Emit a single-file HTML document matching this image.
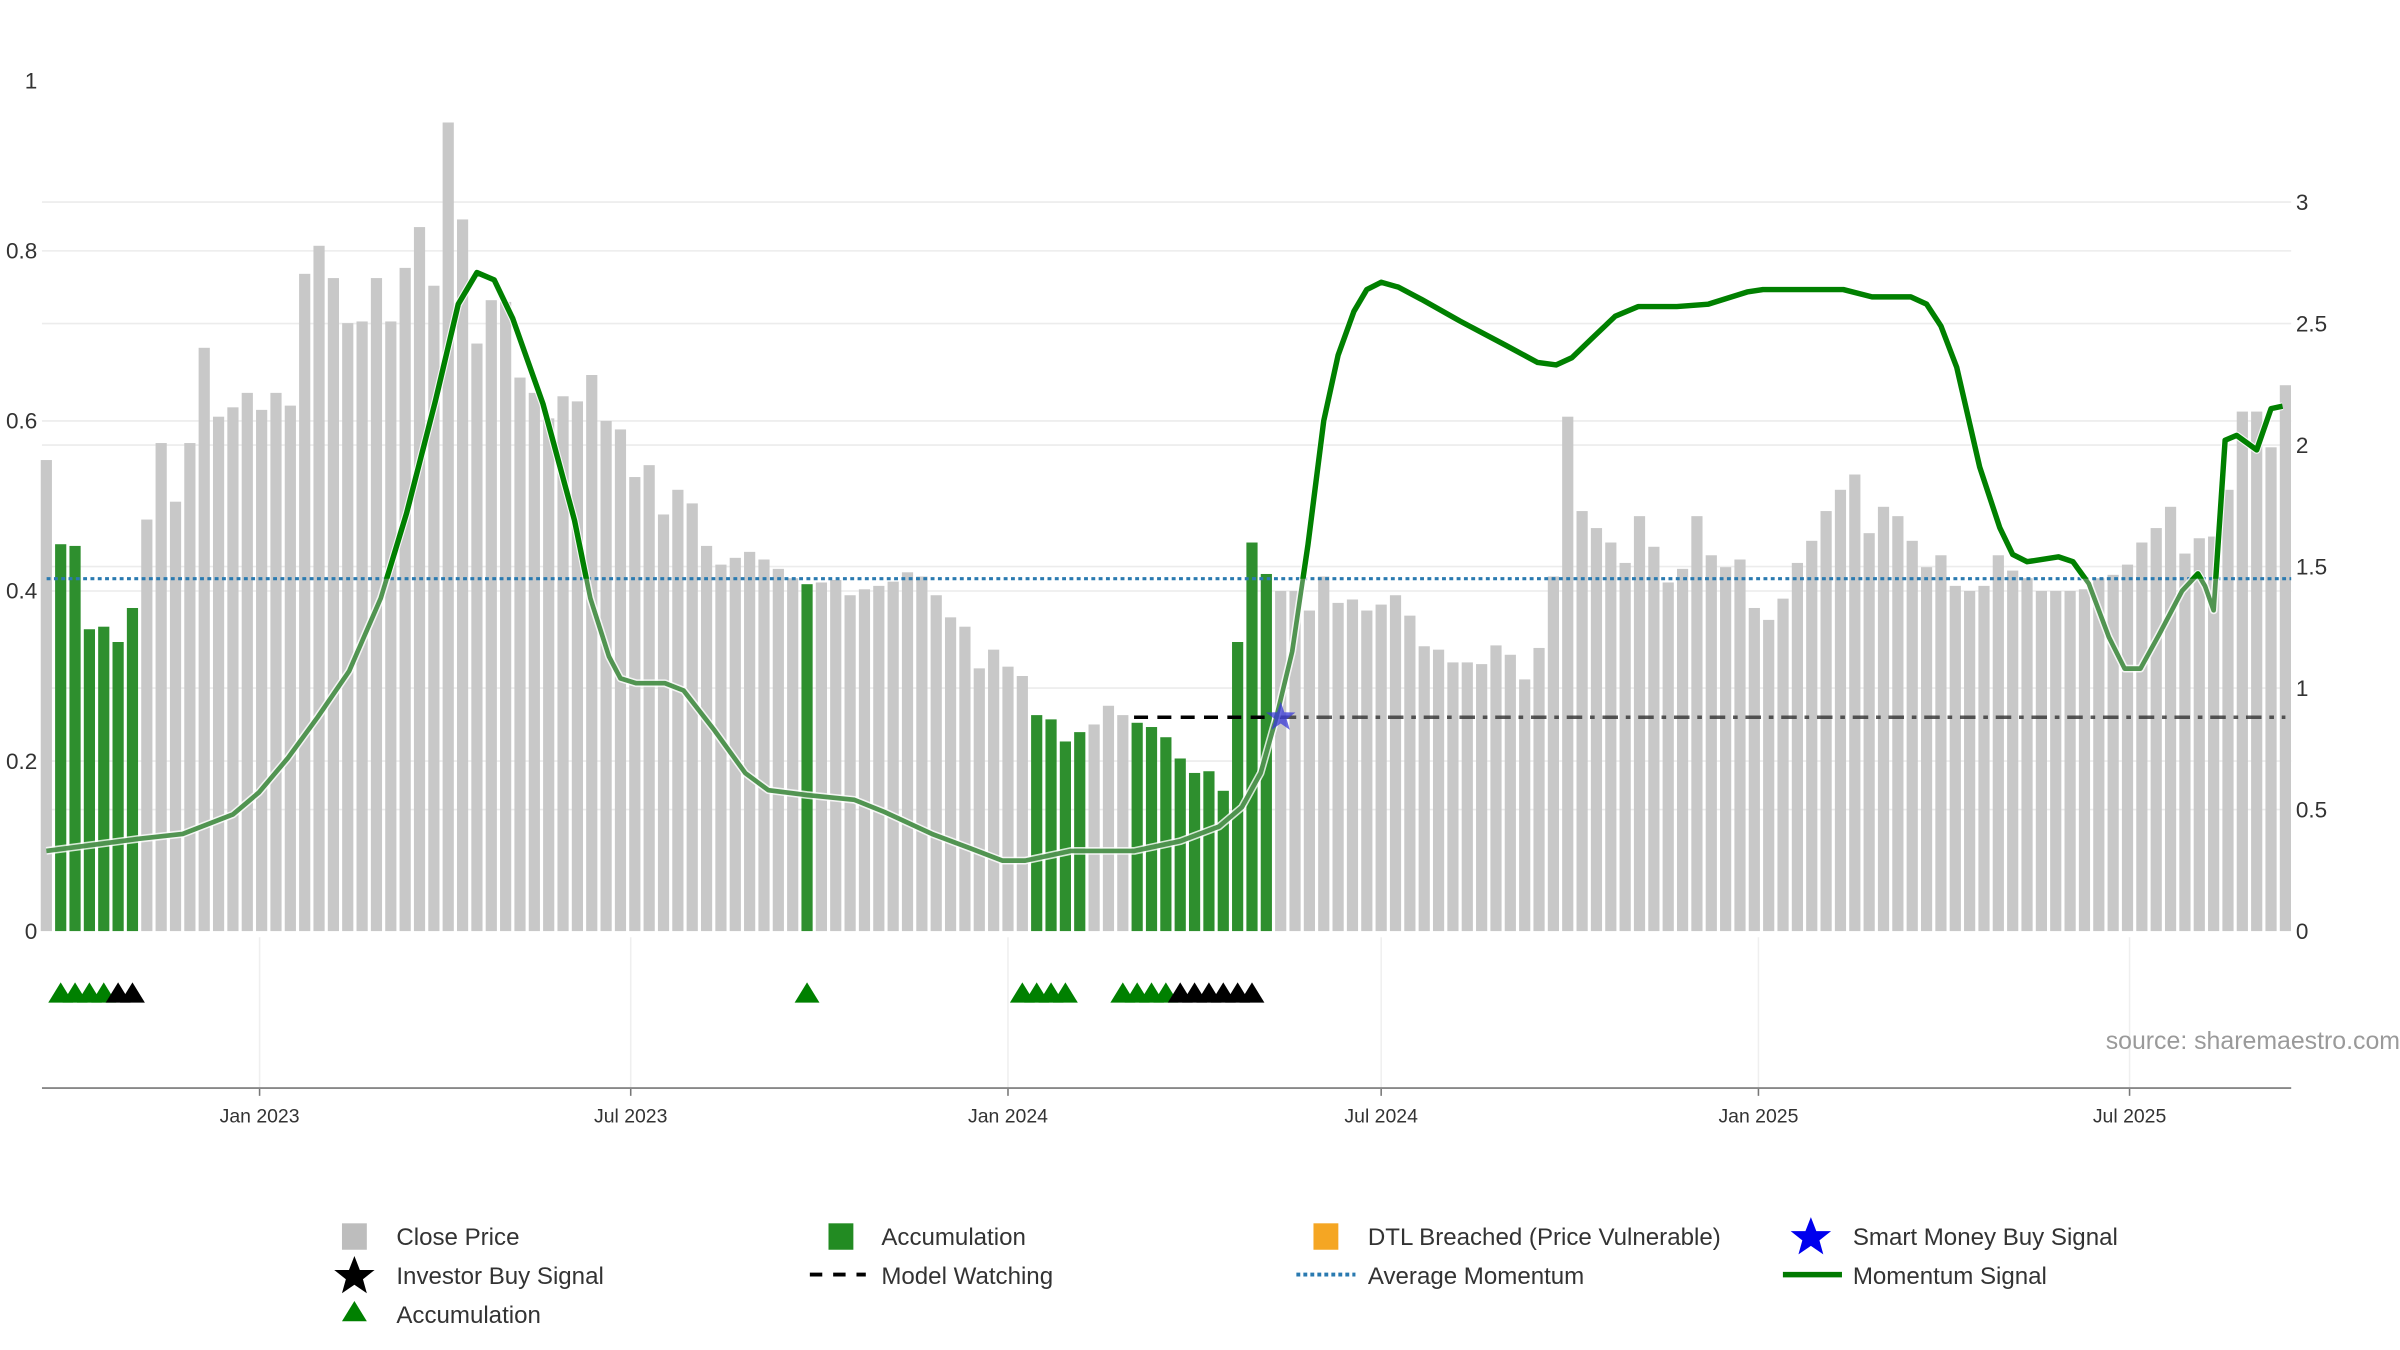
<!DOCTYPE html>
<html><head><meta charset="utf-8"><style>
html,body{margin:0;padding:0;background:#fff;}
svg{display:block;font-family:"Liberation Sans","DejaVu Sans",sans-serif;}
</style></head><body>
<svg id="chart" width="2400" height="1350" viewBox="0 0 1544 868.5" preserveAspectRatio="none" xmlns="http://www.w3.org/2000/svg">
<defs><clipPath id="aboveAvg"><rect id="clipRect" x="0" y="0" width="1544" height="373"/></clipPath></defs>
<g id="grid"></g>
<g id="bars"></g>
<g id="lines"></g>
<g id="marks"></g>
<g id="axes"></g>
<text x="1544" y="675" text-anchor="end" font-size="16" fill="#9a9a9a">source: sharemaestro.com</text>
<g font-size="15.5" fill="#333">
 <g><rect x="220" y="787" width="16" height="17" fill="#bdbdbd"/><text x="255" y="801">Close Price</text></g>
 <g><rect x="533" y="787" width="16" height="17" fill="#228b22"/><text x="567" y="801">Accumulation</text></g>
 <g><rect x="845" y="787" width="16" height="17" fill="#f5a623"/><text x="880" y="801">DTL Breached (Price Vulnerable)</text></g>
 <g><polygon points="1165,783 1168.5,792 1178,792 1170.5,798 1173,807 1165,801.5 1157,807 1159.5,798 1152,792 1161.5,792" fill="#0000ee"/><text x="1192" y="801">Smart Money Buy Signal</text></g>
 <g><polygon points="228,808 231.5,817 241,817 233.5,823 236,832 228,826.5 220,832 222.5,823 215,817 224.5,817" fill="#000"/><text x="255" y="826">Investor Buy Signal</text></g>
 <g><line x1="521" y1="820" x2="557" y2="820" stroke="#000" stroke-width="2.5" stroke-dasharray="8,7"/><text x="567" y="826">Model Watching</text></g>
 <g><line x1="834" y1="820" x2="872" y2="820" stroke="#2a7ab0" stroke-width="2.5" stroke-dasharray="2.5,2"/><text x="880" y="826">Average Momentum</text></g>
 <g><line x1="1147" y1="820" x2="1185" y2="820" stroke="#007a00" stroke-width="3.5"/><text x="1192" y="826">Momentum Signal</text></g>
 <g><polygon points="228,837 236,850 220,850" fill="#008000"/><text x="255" y="851">Accumulation</text></g>
</g>
</svg>
<script>
const prices=[0.554,0.455,0.453,0.355,0.358,0.34,0.38,0.484,0.574,0.505,0.574,0.686,0.605,0.616,0.633,0.613,0.633,0.618,0.773,0.806,0.768,0.715,0.717,0.768,0.717,0.78,0.828,0.759,0.951,0.837,0.691,0.742,0.74,0.651,0.633,
0.603,0.629,0.623,0.654,0.6,0.59,0.534,0.548,0.49,0.519,0.503,0.453,0.431,0.439,0.446,0.437,0.426,0.415,0.408,0.41,0.413,0.395,0.402,0.406,0.411,0.422,0.417,0.395,0.369,0.358,0.309,0.331,0.311,0.3,0.254,0.249,0.223,0.234,0.243,0.265,0.254,0.245,0.24,0.228,0.203,0.186,0.188,0.165,0.34,0.457,0.42,0.4,
0.4,0.377,0.417,0.386,0.39,0.377,0.384,0.395,0.371,0.335,0.331,0.316,0.316,0.314,0.336,0.325,0.296,0.333,0.417,0.605,0.494,0.474,0.457,0.433,0.488,0.452,0.41,0.426,0.488,0.442,0.428,0.437,0.38,0.366,0.391,0.433,0.459,0.494,0.519,0.537,0.468,0.499,0.488,0.459,0.428,0.442,0.406,0.4,0.406,0.442,0.424,0.415,0.4,0.4,0.4,0.402,0.415,0.419,0.431,0.457,0.474,0.499,0.444,0.462,0.464,0.519,0.611,0.611,0.569,0.642];
const accumBars=[1,2,3,4,5,6,53,69,70,71,72,76,77,78,79,80,81,82,83,84,85];
const greenTriangles=[1,2,3,4,53,68,69,70,71,75,76,77,78];
const blackTriangles=[5,6,79,80,81,82,83,84];
const momWeek=[0,6.5,9.5,13,14.8,16.8,18.9,21.1,23.3,25.1,27.1,28.7,30,31.2,32.5,34.6,36.8,37.9,39.2,40,41.1,43.1,44.4,46.5,48.7,50.3,53,56.3,58.4,61.7,64.4,66.6,68.2,71.4,75.8,79,81.7,83.3,84.6,85.7,86.8,87.9,89,90,91.1,92,93,94.2,95.8,98.5,101.7,103.9,105.2,106.3,107.7,109.3,110.9,113.6,115.8,118.5,119.6,124,125.2,127.2,129.9,131,132,133.1,134.7,136.1,137,138,140.2,141.2,142.3,143.7,144.8,145.9,147.2,148.8,149.9,150.4,151,151.8,152.6,154,155,155.8];
const momVal=[0.33,0.38,0.40,0.48,0.57,0.71,0.88,1.07,1.37,1.72,2.18,2.58,2.71,2.68,2.52,2.17,1.69,1.37,1.13,1.04,1.02,1.02,0.99,0.83,0.65,0.58,0.56,0.54,0.49,0.40,0.34,0.29,0.29,0.33,0.33,0.37,0.43,0.51,0.65,0.88,1.15,1.59,2.1,2.37,2.55,2.64,2.67,2.65,2.60,2.51,2.41,2.34,2.33,2.36,2.44,2.53,2.57,2.57,2.58,2.63,2.64,2.64,2.64,2.61,2.61,2.58,2.49,2.32,1.91,1.66,1.55,1.52,1.54,1.52,1.43,1.21,1.08,1.08,1.22,1.40,1.47,1.42,1.32,2.02,2.04,1.98,2.15,2.16];
const avgMomentum=1.45;
const watchValue=0.88, watchStart=76, starWeek=86;
const leftTicks=[0,0.2,0.4,0.6,0.8,1];
const leftTickLabels=["0","0.2","0.4","0.6","0.8","1"];
const rightTicks=[0,0.5,1,1.5,2,2.5,3];
const rightTickLabels=["0","0.5","1","1.5","2","2.5","3"];
const xTickDates=["2023-01-01","2023-07-01","2024-01-01","2024-07-01","2025-01-01","2025-07-01"];
const xTickLabels=["Jan 2023","Jul 2023","Jan 2024","Jul 2024","Jan 2025","Jul 2025"];

const NS="http://www.w3.org/2000/svg";
const START=Date.UTC(2022,8,19), REF=Date.UTC(2023,0,1), DAYPX=1.3191, DAY=86400000;
function xDate(t){return 167+((t-REF)/DAY)*DAYPX;}
function xWeek(w){return xDate(START+w*7*DAY);}
function yL(v){return 599-v*547;}
function yR(v){return 599-v*156.33;}
function mk(tag,parent,attrs){const e=document.createElementNS(NS,tag);for(const k in attrs)e.setAttribute(k,attrs[k]);parent.appendChild(e);return e;}
const G=document.getElementById('grid'),B=document.getElementById('bars'),L=document.getElementById('lines'),M=document.getElementById('marks'),A=document.getElementById('axes');

leftTicks.forEach((v,i)=>{
  if(v>0&&v<1){const g=mk('line',G,{x1:27,x2:1474,y1:yL(v),y2:yL(v),stroke:'#ececec','stroke-width':1});
  
  }
  const t=mk('text',A,{x:24,y:yL(v)+5,'text-anchor':'end','font-size':14.5,fill:'#333'});t.textContent=leftTickLabels[i];
  
  
});
rightTicks.forEach((v,i)=>{
  if(v>0){const g=mk('line',G,{x1:27,x2:1474,y1:yR(v),y2:yR(v),stroke:'#ececec','stroke-width':1});
  
  }
  const t=mk('text',A,{x:1477,y:yR(v)+5,'font-size':14.5,fill:'#333'});t.textContent=rightTickLabels[i];
  
  
});
xTickDates.forEach((d,i)=>{
  const p=d.split('-');const x=xDate(Date.UTC(+p[0],+p[1]-1,+p[2]));
  const g=mk('line',G,{x1:x,x2:x,y1:603,y2:700,stroke:'#efefef','stroke-width':1});
  
  
  const tk=mk('line',A,{x1:x,x2:x,y1:700,y2:705,stroke:'#777','stroke-width':1});
  
  
  const t=mk('text',A,{x:x,y:722,'text-anchor':'middle','font-size':12.5,fill:'#333'});t.textContent=xTickLabels[i];
  
  
});
const ax=mk('line',A,{x1:27,x2:1474,y1:700,y2:700,stroke:'#888','stroke-width':1.2});



prices.forEach((v,i)=>{
  const acc=accumBars.includes(i);
  const x=xWeek(i);
  const r=mk('rect',B,{x:x-3.6,y:yL(v),width:7.2,height:599-yL(v),fill:acc?'#2e8f2e':'#c8c8c8'});
  
  
});

const avg=mk('line',L,{x1:30,x2:1474,y1:yR(avgMomentum),y2:yR(avgMomentum),stroke:'#2a7ab0','stroke-width':2,'stroke-dasharray':'2.5,2.2'});


document.getElementById('clipRect').setAttribute('height',yR(avgMomentum));

const wy=yR(watchValue);
const w1=mk('line',L,{x1:xWeek(watchStart)-2,x2:xWeek(starWeek),y1:wy,y2:wy,stroke:'#000','stroke-width':2.2,'stroke-dasharray':'9,6'});


const w2=mk('line',L,{x1:xWeek(starWeek),x2:xWeek(prices.length-1),y1:wy,y2:wy,stroke:'#333','stroke-width':2.2,'stroke-dasharray':'10,5,3,5',opacity:0.8});



const pts=momWeek.map((w,i)=>xWeek(w).toFixed(2)+','+yR(momVal[i]).toFixed(2)).join(' ');
const halo=mk('polyline',L,{points:pts,fill:'none',stroke:'#fff','stroke-width':5,'stroke-linejoin':'round',opacity:0.8});


const lo=mk('polyline',L,{points:pts,fill:'none',stroke:'#3f8a3f','stroke-width':3,'stroke-linejoin':'round',opacity:0.9});


const hi=mk('polyline',L,{points:pts,fill:'none',stroke:'#008000','stroke-width':3.5,'stroke-linejoin':'round','clip-path':'url(#aboveAvg)'});



function tri(w,color,name){
  const x=xWeek(w);
  const p=mk('polygon',M,{points:`${x},632 ${x+8},645 ${x-8},645`,fill:color});
  
  
}
greenTriangles.forEach(w=>tri(w,'#008000','accumulation-triangle'));
blackTriangles.forEach(w=>tri(w,'#000','investor-buy-triangle'));

const sx=xWeek(starWeek),sy=wy;let sp=[];
for(let k=0;k<10;k++){const a=-Math.PI/2+k*Math.PI/5;const r=k%2?4:10;sp.push((sx+r*Math.cos(a)).toFixed(2)+','+(sy+r*Math.sin(a)).toFixed(2));}
const star=mk('polygon',M,{points:sp.join(' '),fill:'#3a3ad8',opacity:0.75});


</script>
</body></html>
